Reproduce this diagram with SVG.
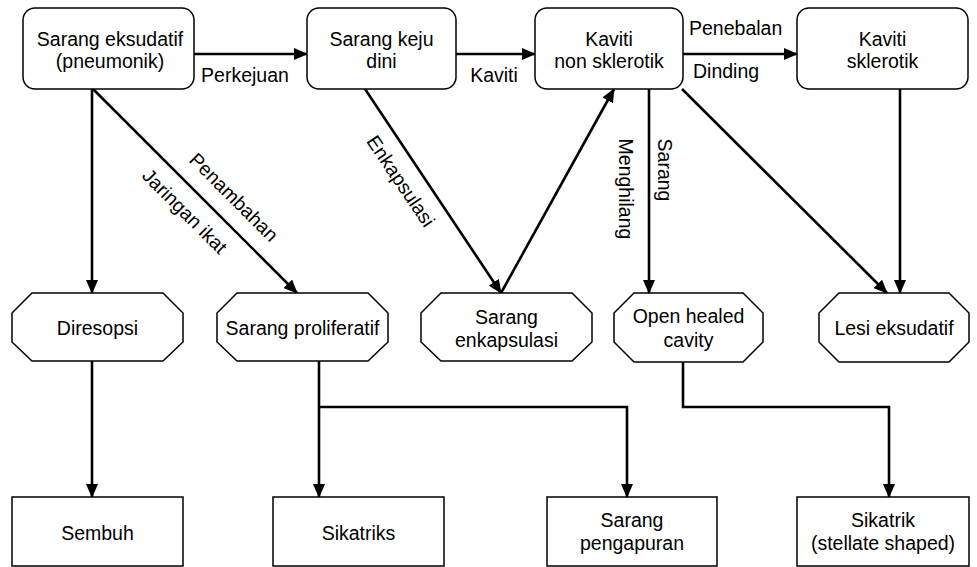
<svg xmlns="http://www.w3.org/2000/svg" width="977" height="567" viewBox="0 0 977 567">
  <style>
    .box { fill: #ffffff; stroke: #000000; stroke-width: 1.5; }
    .lbl { font-family: "Liberation Sans", Arial, sans-serif; font-size: 19.5px; fill: #000000; }
    .c { text-anchor: middle; }
    .edge { fill: none; stroke: #000000; stroke-width: 2.6; }
  </style>
  <defs>
    <marker id="arrow" markerUnits="userSpaceOnUse" markerWidth="14" markerHeight="12" refX="13" refY="6" orient="auto">
      <path d="M0,0 L14,6 L0,12 Z" fill="#000000"/>
    </marker>
  </defs>

  <rect width="977" height="567" fill="#ffffff"/>

  <!-- connectors -->
  <g id="connectors">
    <line class="edge" x1="194" y1="54" x2="307" y2="54" marker-end="url(#arrow)"/>
    <line class="edge" x1="456" y1="54" x2="535" y2="54" marker-end="url(#arrow)"/>
    <line class="edge" x1="683" y1="54" x2="797" y2="54" marker-end="url(#arrow)"/>

    <line class="edge" x1="92" y1="89" x2="92" y2="293" marker-end="url(#arrow)"/>
    <line class="edge" x1="93" y1="89" x2="297" y2="293" marker-end="url(#arrow)"/>
    <line class="edge" x1="365" y1="89" x2="501" y2="293" marker-end="url(#arrow)"/>
    <line class="edge" x1="501" y1="293" x2="614" y2="89" marker-end="url(#arrow)"/>
    <line class="edge" x1="649" y1="89" x2="649" y2="293" marker-end="url(#arrow)"/>
    <line class="edge" x1="682" y1="89" x2="887" y2="293" marker-end="url(#arrow)"/>
    <line class="edge" x1="900" y1="89" x2="900" y2="293" marker-end="url(#arrow)"/>

    <line class="edge" x1="92" y1="361" x2="92" y2="497" marker-end="url(#arrow)"/>
    <line class="edge" x1="319" y1="361" x2="319" y2="497" marker-end="url(#arrow)"/>
    <polyline class="edge" points="319,407 627,407 627,497" marker-end="url(#arrow)"/>
    <polyline class="edge" points="683,362 683,407 889,407 889,497" marker-end="url(#arrow)"/>

    <!-- edge labels -->
    <text class="lbl c" x="245" y="82">Perkejuan</text>
    <text class="lbl c" x="494" y="82">Kaviti</text>
    <text class="lbl" x="689" y="35">Penebalan</text>
    <text class="lbl" x="693" y="78">Dinding</text>
    <text class="lbl c" x="234" y="204" transform="rotate(45 234 197)">Penambahan</text>
    <text class="lbl c" x="185" y="218" transform="rotate(45 185 211)">Jaringan ikat</text>
    <text class="lbl c" x="401" y="188" transform="rotate(56 401 181)">Enkapsulasi</text>
    <text class="lbl c" x="665" y="177" transform="rotate(90 665 170)">Sarang</text>
    <text class="lbl c" x="626" y="196" transform="rotate(90 626 189)">Menghilang</text>
  </g>

  <!-- top row -->
  <g id="sarang-eksudatif">
    <rect class="box" x="23" y="8" width="171" height="81" rx="12"/>
    <text class="lbl c" x="110" y="46">Sarang eksudatif</text>
    <text class="lbl c" x="110" y="68">(pneumonik)</text>
  </g>
  <g id="sarang-keju-dini">
    <rect class="box" x="307" y="8" width="149" height="81" rx="12"/>
    <text class="lbl c" x="381.5" y="46">Sarang keju</text>
    <text class="lbl c" x="381.5" y="68">dini</text>
  </g>
  <g id="kaviti-non-sklerotik">
    <rect class="box" x="535" y="8" width="148" height="81" rx="12"/>
    <text class="lbl c" x="609" y="46">Kaviti</text>
    <text class="lbl c" x="609" y="68">non sklerotik</text>
  </g>
  <g id="kaviti-sklerotik">
    <rect class="box" x="797" y="8" width="171" height="81" rx="12"/>
    <text class="lbl c" x="882.5" y="46">Kaviti</text>
    <text class="lbl c" x="882.5" y="68">sklerotik</text>
  </g>

  <!-- middle row -->
  <g id="diresopsi">
    <polygon class="box" points="32,293 163,293 183,313 183,342 163,361 32,361 12,342 12,313"/>
    <text class="lbl c" x="97.5" y="335">Diresopsi</text>
  </g>
  <g id="sarang-proliferatif">
    <polygon class="box" points="237,293 368,293 388,313 388,342 368,361 237,361 217,342 217,313"/>
    <text class="lbl c" x="302.5" y="335">Sarang proliferatif</text>
  </g>
  <g id="sarang-enkapsulasi">
    <polygon class="box" points="441,293 572,293 592,313 592,342 572,361 441,361 421,342 421,313"/>
    <text class="lbl c" x="506.5" y="324">Sarang</text>
    <text class="lbl c" x="506.5" y="347">enkapsulasi</text>
  </g>
  <g id="open-healed-cavity">
    <polygon class="box" points="634,293 743,293 763,313 763,342 743,362 634,362 614,342 614,313"/>
    <text class="lbl c" x="688.5" y="323">Open healed</text>
    <text class="lbl c" x="688.5" y="347">cavity</text>
  </g>
  <g id="lesi-eksudatif">
    <polygon class="box" points="839,293 949,293 969,313 969,342 949,362 839,362 819,342 819,313"/>
    <text class="lbl c" x="894" y="335">Lesi eksudatif</text>
  </g>

  <!-- bottom row -->
  <g id="sembuh">
    <rect class="box" x="12" y="497" width="171" height="69"/>
    <text class="lbl c" x="97.5" y="540">Sembuh</text>
  </g>
  <g id="sikatriks">
    <rect class="box" x="273" y="497" width="171" height="69"/>
    <text class="lbl c" x="358.5" y="540">Sikatriks</text>
  </g>
  <g id="sarang-pengapuran">
    <rect class="box" x="547" y="497" width="170" height="69"/>
    <text class="lbl c" x="632" y="527">Sarang</text>
    <text class="lbl c" x="632" y="550">pengapuran</text>
  </g>
  <g id="sikatrik-stellate">
    <rect class="box" x="797" y="497" width="172" height="69"/>
    <text class="lbl c" x="883" y="527">Sikatrik</text>
    <text class="lbl c" x="883" y="550">(stellate shaped)</text>
  </g>
</svg>
